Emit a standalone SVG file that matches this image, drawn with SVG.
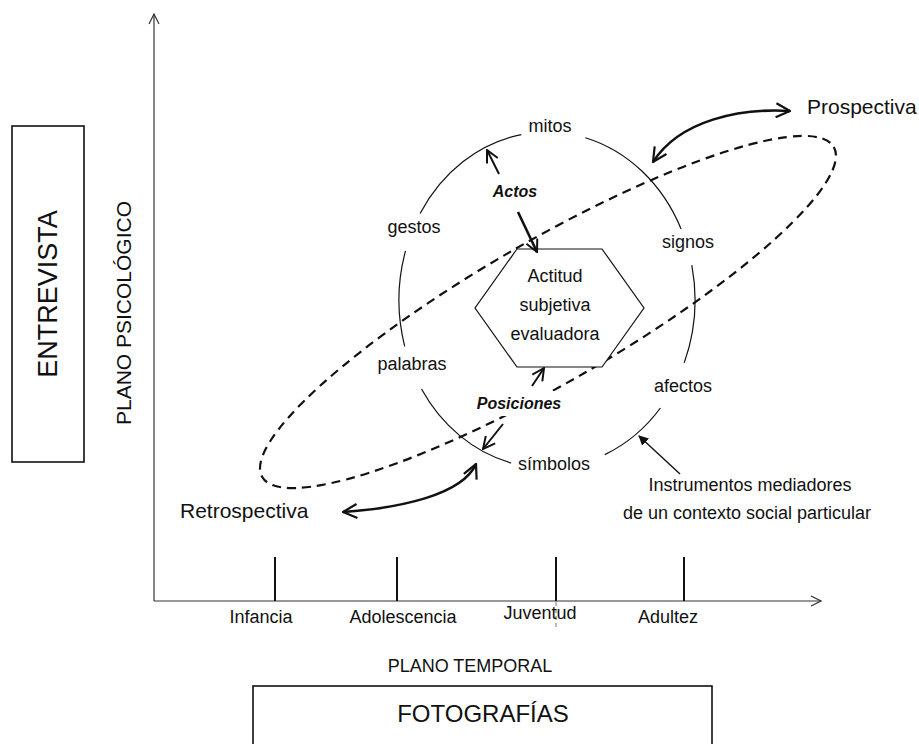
<svg xmlns="http://www.w3.org/2000/svg" width="919" height="744" viewBox="0 0 919 744">
  <style>
    text { font-family: "Liberation Sans", Arial, Helvetica, sans-serif; fill: #111; }
    .lbl { font-size: 18px; text-anchor: middle; }
    .em { font-size: 16px; font-weight: bold; font-style: italic; text-anchor: middle; }
    .axis { stroke: #333; stroke-width: 1.2; fill: none; }
    .tick { stroke: #111; stroke-width: 2; }
    .ring { stroke: #111; stroke-width: 1.2; fill: none; }
    .arr { stroke: #111; stroke-width: 2; fill: none; }
    .arr-bold { stroke: #111; stroke-width: 2.6; fill: none; }
    .box { stroke: #111; stroke-width: 1.6; fill: none; }
  </style>
  <defs>
    <marker id="open" viewBox="0 0 14 14" refX="13" refY="7" markerWidth="14" markerHeight="14" markerUnits="userSpaceOnUse" orient="auto-start-reverse">
      <path d="M1,1 L13,7 L1,13" fill="none" stroke="#111" stroke-width="2"/>
    </marker>
    <marker id="open-lg" viewBox="0 0 16 16" refX="15" refY="8" markerWidth="16" markerHeight="16" markerUnits="userSpaceOnUse" orient="auto-start-reverse">
      <path d="M1,1 L15,8 L1,15" fill="none" stroke="#111" stroke-width="2.2"/>
    </marker>
    <marker id="axis-head" viewBox="0 0 12 12" refX="11" refY="6" markerWidth="12" markerHeight="12" markerUnits="userSpaceOnUse" orient="auto">
      <path d="M1,1 L11,6 L1,11" fill="none" stroke="#333" stroke-width="1.2"/>
    </marker>
    <marker id="solid" viewBox="0 0 10 10" refX="9" refY="5" markerWidth="10" markerHeight="10" markerUnits="userSpaceOnUse" orient="auto">
      <path d="M0,0 L10,5 L0,10 Z" fill="#111"/>
    </marker>
  </defs>

  <!-- side boxes -->
  <g id="entrevista">
    <rect class="box" x="12" y="126" width="72" height="336"/>
    <text transform="translate(57,294) rotate(-90)" style="font-size:27px;text-anchor:middle">ENTREVISTA</text>
  </g>
  <g id="fotografias">
    <rect class="box" x="253" y="686" width="459" height="70"/>
    <text x="483" y="722" style="font-size:24px;text-anchor:middle">FOTOGRAFÍAS</text>
  </g>

  <!-- axes -->
  <g id="axes">
    <line class="axis" x1="154" y1="601" x2="154" y2="14" marker-end="url(#axis-head)"/>
    <line class="axis" x1="154" y1="601" x2="821" y2="601" marker-end="url(#axis-head)"/>
    <text transform="translate(131,313) rotate(-90)" style="font-size:21px;text-anchor:middle">PLANO PSICOLÓGICO</text>
    <text x="470" y="672" style="font-size:18px;text-anchor:middle">PLANO TEMPORAL</text>
  </g>

  <!-- time stages -->
  <g id="infancia">
    <line class="tick" x1="275" y1="557" x2="275" y2="601"/>
    <text class="lbl" x="261" y="623">Infancia</text>
  </g>
  <g id="adolescencia">
    <line class="tick" x1="397" y1="557" x2="397" y2="601"/>
    <text class="lbl" x="403" y="623">Adolescencia</text>
  </g>
  <g id="juventud">
    <line class="tick" x1="556" y1="557" x2="556" y2="601"/>
    <line x1="556" y1="602" x2="556" y2="630" stroke="#777" stroke-width="1" stroke-dasharray="4 3"/>
    <text class="lbl" x="540" y="619">Juventud</text>
  </g>
  <g id="adultez">
    <line class="tick" x1="684" y1="557" x2="684" y2="601"/>
    <text class="lbl" x="668" y="623">Adultez</text>
  </g>

  <!-- ring of mediating instruments -->
  <g id="ring">
    <path class="ring" d="M585.3,137.7 A148,168 0 0 1 681.1,229.0
                          M691.8,265.1 A148,168 0 0 1 684.2,362.9
                          M660.4,408.0 A148,168 0 0 1 604.8,454.6
                          M511.2,463.0 A148,168 0 0 1 421.5,389.0
                          M404.7,346.3 A148,168 0 0 1 405.5,250.9
                          M420.1,213.5 A148,168 0 0 1 521.3,134.6"/>
    <text class="lbl" x="550" y="132">mitos</text>
    <text class="lbl" x="688" y="248">signos</text>
    <text class="lbl" x="683" y="392">afectos</text>
    <text class="lbl" x="554" y="470">símbolos</text>
    <text class="lbl" x="412" y="370">palabras</text>
    <text class="lbl" x="414" y="233">gestos</text>
  </g>

  <!-- time horizon (dashed loop) -->
  <g id="horizonte">
    <ellipse cx="548" cy="312" rx="330" ry="71" transform="rotate(-30 548 312)" fill="none" stroke="#111" stroke-width="2.2" stroke-dasharray="9 6"/>
  </g>

  <!-- central node -->
  <g id="actitud">
    <polygon points="517,249 602,249 644,308 602,367 517,367 475,308" fill="#fff" stroke="#111" stroke-width="1.2"/>
    <text class="lbl" x="555" y="282">Actitud</text>
    <text class="lbl" x="555" y="311">subjetiva</text>
    <text class="lbl" x="555" y="340">evaluadora</text>
  </g>

  <g id="actos">
    <text class="em" x="515" y="197">Actos</text>
  </g>
  <g id="posiciones">
    <rect x="474" y="391" width="96" height="25" fill="#fff"/>
    <text class="em" x="519" y="409">Posiciones</text>
  </g>

  <g id="prospectiva">
    <text x="807" y="114" style="font-size:21px">Prospectiva</text>
  </g>
  <g id="retrospectiva">
    <text x="180" y="518" style="font-size:21px">Retrospectiva</text>
  </g>

  <g id="instrumentos">
    <text class="lbl" x="750" y="491">Instrumentos mediadores</text>
    <text class="lbl" x="747" y="519">de un contexto social particular</text>
  </g>

  <!-- connectors -->
  <g id="connectors">
    <path class="arr-bold" d="M653,162 C680,120 740,108 790,111" marker-start="url(#open-lg)" marker-end="url(#open-lg)"/>
    <path class="arr-bold" d="M343,512 C400,508 462,495 476,464" marker-start="url(#open-lg)" marker-end="url(#open-lg)"/>
    <line class="arr" x1="499" y1="174" x2="487" y2="150" marker-end="url(#open)"/>
    <line class="arr-bold" x1="518" y1="212" x2="537" y2="252" marker-end="url(#open)"/>
    <line class="arr" x1="532" y1="386" x2="544" y2="368" marker-end="url(#open)"/>
    <line class="arr" x1="503" y1="424" x2="483" y2="449" marker-end="url(#open)"/>
    <line x1="680" y1="474" x2="639" y2="436" stroke="#111" stroke-width="1.4" marker-end="url(#solid)"/>
  </g>
</svg>
